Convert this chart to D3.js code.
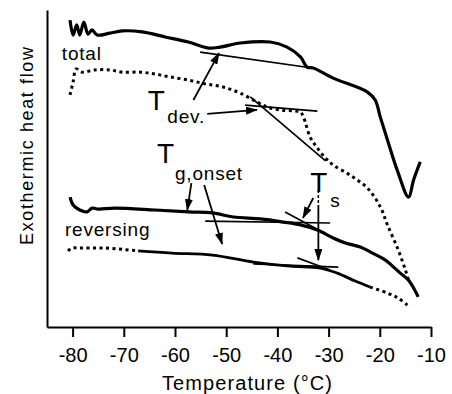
<!DOCTYPE html>
<html lang="en">
<head>
  <meta charset="utf-8" />
  <script src="https://d3js.org/d3.v7.min.js" charset="utf-8"></script>
<style>
body {
  margin: 0;
  background: #fff;
}
svg text {
  font-family: 'Liberation Sans', Arial, sans-serif;
  fill: #000;
}
</style>
</head>
<body>
<div id="chart"></div>
<script>
// temperature ticks
var tempTicks = [-80, -70, -60, -50, -40, -30, -20, -10];

// total heat flow, solid curve
var totalT  = [-80.5, -79.9, -79.2, -78.6, -77.8, -77.0, -76.2, -75.2, -72.7, -70.3, -66.4, -61.9, -57.4, -53.5, -51.2, -47.2, -41.4, -38.1, -35.5, -34.2, -33.0, -29.1, -22.4, -20.9, -19.9, -18.5, -16.6, -14.4, -13.4, -12.1];
var totalHF = [9.68, 9.21, 9.53, 9.21, 9.62, 9.24, 9.37, 9.21, 9.27, 9.34, 9.31, 9.15, 8.99, 8.80, 8.83, 8.96, 8.99, 8.83, 8.52, 8.20, 8.17, 7.85, 7.41, 7.16, 6.62, 5.90, 4.95, 4.10, 4.64, 5.21];

// total heat flow, dotted curve
var totalDotT  = [-80.5, -79.9, -79.3, -78.2, -75.6, -72.7, -70.3, -66.8, -63.9, -61.0, -57.4, -54.1, -50.6, -47.3, -44.0, -42.0, -39.5, -36.5, -35.5, -34.9, -33.6, -32.2, -30.6, -29.1, -25.8, -22.4, -19.9, -18.5, -16.4, -15.0, -14.4];
var totalDotHF = [7.32, 7.73, 8.14, 8.04, 8.11, 8.11, 8.04, 8.04, 7.98, 7.89, 7.79, 7.67, 7.57, 7.38, 7.10, 6.94, 6.85, 6.81, 6.78, 6.62, 5.99, 5.65, 5.33, 5.11, 4.79, 4.38, 3.79, 3.22, 2.43, 1.80, 1.48];

// reversing heat flow, solid curve
var revT  = [-80.5, -79.9, -78.6, -77.2, -76.2, -75.0, -71.7, -63.9, -57.4, -52.7, -48.6, -43.3, -38.8, -35.5, -32.2, -29.1, -26.7, -23.8, -21.9, -18.9, -17.3, -16.0, -14.4, -13.4, -12.5];
var revHF = [4.10, 3.85, 3.69, 3.63, 3.75, 3.72, 3.75, 3.69, 3.63, 3.60, 3.47, 3.41, 3.31, 3.22, 3.06, 2.81, 2.65, 2.52, 2.37, 2.11, 1.89, 1.70, 1.48, 1.23, 0.95];

// reversing heat flow, dotted curve (solid in the middle)
var revDotT  = [-80.9, -80.1, -78.6, -73.7, -67.2, -60.6, -52.7, -44.7, -37.5, -31.6, -28.3, -24.8, -21.9, -18.5, -16.4, -14.6];
var revDotHF = [2.40, 2.49, 2.49, 2.49, 2.40, 2.33, 2.27, 2.05, 1.92, 1.86, 1.70, 1.45, 1.26, 1.07, 0.91, 0.69];

// tangent construction lines: [t1, hf1, t2, hf2]
var tangents = [
  [-55.1, 8.67, -33.2, 8.17],
  [-46.3, 7.00, -32.2, 6.81],
  [-45.3, 7.26, -30.6, 5.24],
  [-54.1, 3.34, -29.7, 3.28],
  [-38.5, 3.63, -31.6, 3.03],
  [-44.7, 1.99, -28.1, 1.89],
  [-36.1, 2.18, -29.7, 1.80]
];

// arrows: [tail t, tail hf, tip t, tip hf]
var arrows = [
  [-56.4, 7.16, -51.4, 8.64],
  [-53.7, 6.72, -44.0, 6.85],
  [-56.8, 4.54, -57.6, 3.69],
  [-54.3, 4.48, -50.8, 2.62],
  [-33.0, 4.07, -35.0, 3.44],
  [-32.0, 3.85, -32.0, 2.11]
];

// labels
var labelText = ["total", "reversing", "T", "dev.", "T", "g,onset", "T", "s"];
var labelT    = [-82.1, -81.5, -65.3, -61.5, -63.5, -60.0, -33.6, -29.7];
var labelHF   = [8.42, 2.87, 6.85, 6.44, 5.17, 4.64, 4.26, 3.79];

var width = 452;
var height = 394;

var svg = d3.select('#chart')
  .append('svg')
  .attr('width', width)
  .attr('height', height);

var x = d3.scaleLinear().domain([-85, -10]).range([47, 431]);
var y = d3.scaleLinear().domain([0, 10]).range([327, 10]);

var defs = svg.append('defs');
defs.append('marker')
  .attr('id', 'head')
  .attr('markerUnits', 'userSpaceOnUse')
  .attr('markerWidth', 12)
  .attr('markerHeight', 8)
  .attr('refX', 11)
  .attr('refY', 4)
  .attr('orient', 'auto')
  .append('path')
  .attr('d', 'M0,0 L12,4 L0,8 Z')
  .attr('fill', '#000');

// axes
var xAxis = svg.append('g')
  .attr('transform', 'translate(0,' + y(0) + ')')
  .call(d3.axisBottom(x)
    .tickValues(tempTicks)
    .tickSize(10)
    .tickSizeOuter(0)
    .tickPadding(11)
    .tickFormat(function(d) { return String(d); }));
xAxis.select('.domain').attr('stroke-width', 2);
xAxis.selectAll('.tick line').attr('stroke-width', 2);
xAxis.selectAll('.tick text')
  .style('font-size', '20px')
  .style('font-family', "'Liberation Sans', Arial, sans-serif");

var yAxis = svg.append('g')
  .attr('transform', 'translate(' + x(-85) + ',0)')
  .call(d3.axisLeft(y).tickValues([]).tickSizeOuter(0));
yAxis.select('.domain').attr('stroke-width', 2);

svg.append('text')
  .attr('x', 247)
  .attr('y', 390)
  .attr('text-anchor', 'middle')
  .attr('textLength', 170)
  .attr('lengthAdjust', 'spacing')
  .style('font-size', '20px')
  .text('Temperature (\u00B0C)');

svg.append('text')
  .attr('transform', 'translate(33,146) rotate(-90)')
  .attr('text-anchor', 'middle')
  .attr('textLength', 198)
  .attr('lengthAdjust', 'spacing')
  .style('font-size', '18px')
  .text('Exothermic heat flow');

var line = d3.line()
  .x(function(d) { return x(d.t); })
  .y(function(d) { return y(d.hf); })
  .curve(d3.curveCatmullRom.alpha(0.5));

function zip(ts, hs) {
  return ts.map(function(t, i) { return {t: t, hf: hs[i]}; });
}

var total = zip(totalT, totalHF);
var totalDot = zip(totalDotT, totalDotHF);
var rev = zip(revT, revHF);
var revDot = zip(revDotT, revDotHF);

// tangent lines
svg.selectAll('.tangent')
  .data(tangents)
  .enter()
  .append('line')
  .attr('class', 'tangent')
  .attr('x1', function(d) { return x(d[0]); })
  .attr('y1', function(d) { return y(d[1]); })
  .attr('x2', function(d) { return x(d[2]); })
  .attr('y2', function(d) { return y(d[3]); })
  .attr('stroke', '#000')
  .attr('stroke-width', 1.7);

// curves
svg.append('path')
  .datum(total)
  .attr('d', line)
  .attr('fill', 'none')
  .attr('stroke', '#000')
  .attr('stroke-width', 3.2)
  .attr('stroke-linejoin', 'round');

svg.append('path')
  .datum(totalDot)
  .attr('d', line)
  .attr('fill', 'none')
  .attr('stroke', '#000')
  .attr('stroke-width', 3)
  .attr('stroke-dasharray', '3,3.5');

svg.append('path')
  .datum(rev)
  .attr('d', line)
  .attr('fill', 'none')
  .attr('stroke', '#000')
  .attr('stroke-width', 3.2)
  .attr('stroke-linejoin', 'round');

svg.append('path')
  .datum(revDot.filter(function(d) { return d.t <= -67.2; }))
  .attr('d', line)
  .attr('fill', 'none')
  .attr('stroke', '#000')
  .attr('stroke-width', 3)
  .attr('stroke-dasharray', '3,3.5');

svg.append('path')
  .datum(revDot.filter(function(d) { return d.t >= -67.2 && d.t <= -21.9; }))
  .attr('d', line)
  .attr('fill', 'none')
  .attr('stroke', '#000')
  .attr('stroke-width', 2.8);

svg.append('path')
  .datum(revDot.filter(function(d) { return d.t >= -21.9; }))
  .attr('d', line)
  .attr('fill', 'none')
  .attr('stroke', '#000')
  .attr('stroke-width', 3)
  .attr('stroke-dasharray', '3,3.5');

// arrows
svg.selectAll('.arrow')
  .data(arrows)
  .enter()
  .append('line')
  .attr('class', 'arrow')
  .attr('x1', function(d) { return x(d[0]); })
  .attr('y1', function(d) { return y(d[1]); })
  .attr('x2', function(d) { return x(d[2]); })
  .attr('y2', function(d) { return y(d[3]); })
  .attr('stroke', '#000')
  .attr('stroke-width', 1.8)
  .attr('marker-end', 'url(#head)');

// dashed stub above the T_s arrow
svg.append('line')
  .attr('x1', x(-32.0)).attr('y1', y(4.32))
  .attr('x2', x(-32.0)).attr('y2', y(3.85))
  .attr('stroke', '#000')
  .attr('stroke-width', 1.5)
  .attr('stroke-dasharray', '3,2');

// labels
svg.selectAll('.label')
  .data(labelText)
  .enter()
  .append('text')
  .attr('class', 'label')
  .attr('x', function(d, i) { return x(labelT[i]); })
  .attr('y', function(d, i) { return y(labelHF[i]); })
  .style('font-size', function(d) { return d === 'T' ? '28px' : '19px'; })
  .style('letter-spacing', function(d) { return d === 'T' ? '0px' : '0.8px'; })
  .text(function(d) { return d; });
</script>
</body>
</html>
